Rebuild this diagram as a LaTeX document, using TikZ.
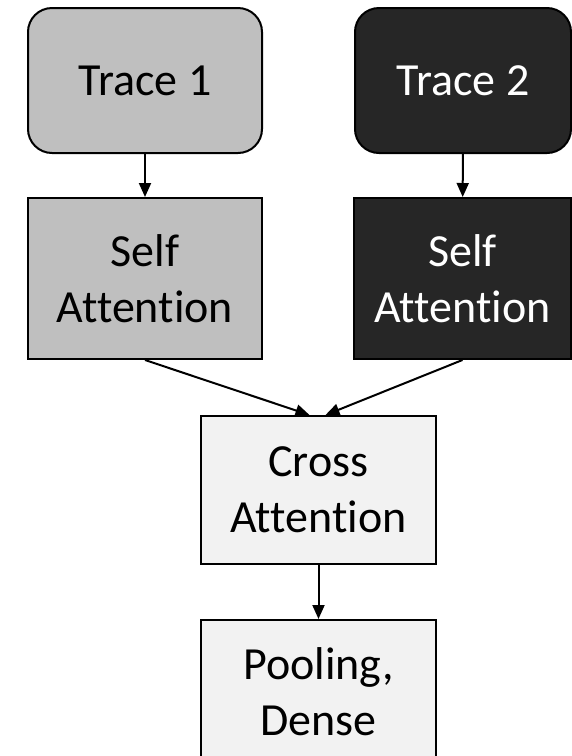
\documentclass[tikz,border=0pt]{standalone}
\usepackage{fontspec}
\setmainfont[Ligatures=NoCommon]{Carlito}
\usetikzlibrary{arrows.meta}
\definecolor{lightgrey}{HTML}{BFBFBF}
\definecolor{darkgrey}{HTML}{262626}
\definecolor{paler}{HTML}{F2F2F2}
\tikzset{
  block/.style={draw,line width=1pt,align=center,inner sep=0pt,
    font=\fontsize{23}{28}\selectfont},
  trace/.style={block,rounded corners=12pt},
  grey/.style={fill=lightgrey,text=black},
  dark/.style={fill=darkgrey,text=white},
  pale/.style={fill=paler,text=black},
}
\begin{document}
\begin{tikzpicture}[>={Triangle[length=7pt,width=6pt]},line width=1pt]
    \useasboundingbox (0,0) rectangle (286pt,-378pt);
    \node [trace,grey,minimum width=117pt,minimum height=72.5pt] (t1) at (72.5pt,-40.25pt) {Trace 1};
    \node [trace,dark,minimum width=108pt,minimum height=72.5pt] (t2) at (231.5pt,-40.25pt) {Trace 2};
    \node [block,grey,minimum width=117pt,minimum height=80.5pt] (s1) at (72.5pt,-139.25pt) {Self\\Attention};
    \node [block,dark,minimum width=108.5pt,minimum height=80.5pt] (s2) at (231.25pt,-139.25pt) {Self\\Attention};
    \node [block,pale,minimum width=117.5pt,minimum height=74pt] (c) at (159.25pt,-245pt) {Cross\\Attention};
    \node [block,pale,minimum width=117.5pt,minimum height=72pt] (p) at (159.25pt,-346pt) {Pooling,\\Dense};
    \draw [->] (t1) -- (s1);
    \draw [->] (t2) -- (s2);
    \draw [->] (s1.south) -- ([xshift=-4.5pt]c.north);
    \draw [->] (s2.south) -- ([xshift=3.5pt]c.north);
    \draw [->] (c) -- (p);
  \end{tikzpicture}
\end{document}
